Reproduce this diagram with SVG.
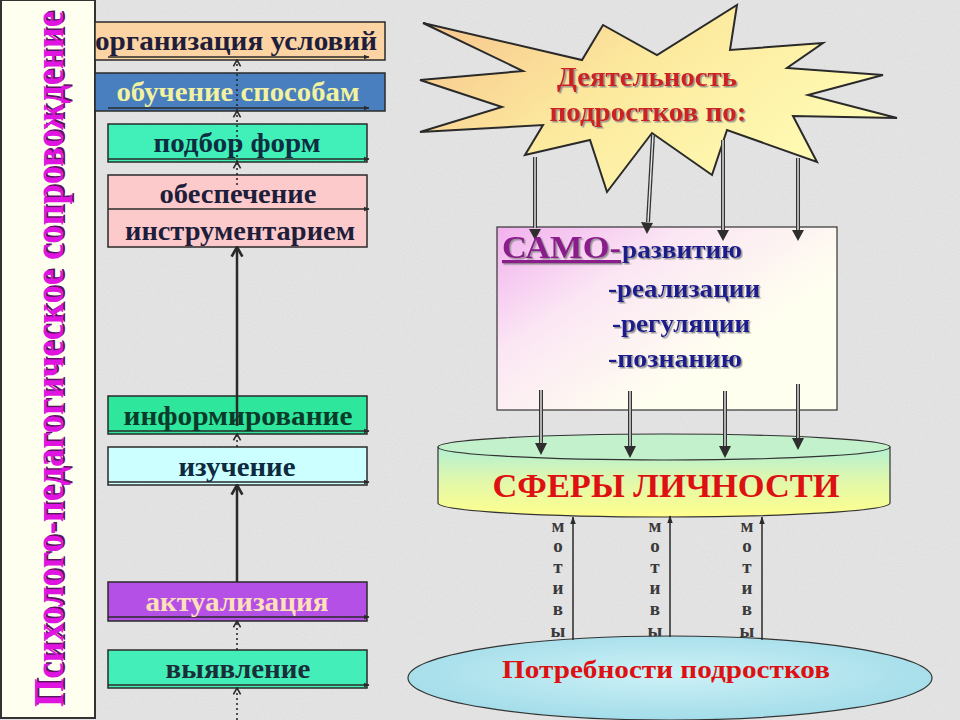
<svg xmlns="http://www.w3.org/2000/svg" width="960" height="720" viewBox="0 0 960 720">
<defs>
<style>
.bx{stroke:#2a2a2a;stroke-width:1.5}
.bt{font-family:"Liberation Serif",serif;font-weight:bold;font-size:27px;text-anchor:middle}
.hl{stroke:#2a2a2a;stroke-width:1.5;fill:none;marker-end:url(#tri)}
.dot{stroke:#2a2a2a;stroke-width:1.6;stroke-dasharray:2 3;fill:none;marker-end:url(#chev)}
.sol{stroke:#2a2a2a;stroke-width:2.5;fill:none;marker-end:url(#chevb)}
.dbl{stroke:#333;stroke-width:4;fill:none}
.dbli{stroke:#e8e8e8;stroke-width:1.4;fill:none}
.up{stroke:#2a2a2a;stroke-width:1.5;fill:none;marker-end:url(#tri2)}
.mot{font-family:"Liberation Serif",serif;font-weight:bold;font-size:19px;fill:#3a3a3a;text-anchor:middle}
.sm{font-family:"Liberation Serif",serif;font-weight:bold;font-size:25px;fill:#1a1a8c}
.tt{font-family:"Liberation Serif",serif;font-weight:bold;font-size:42px}
</style>
<marker id="tri" viewBox="0 0 10 10" refX="9" refY="5" markerWidth="6" markerHeight="6" markerUnits="userSpaceOnUse" orient="auto"><path d="M0,1 L10,5 L0,9 Z" fill="#2a2a2a"/></marker>
<marker id="tri2" viewBox="0 0 10 10" refX="9" refY="5" markerWidth="8" markerHeight="8" markerUnits="userSpaceOnUse" orient="auto"><path d="M0,1.5 L10,5 L0,8.5 Z" fill="#2a2a2a"/></marker>
<marker id="chev" viewBox="0 0 10 10" refX="9" refY="5" markerWidth="8" markerHeight="10" markerUnits="userSpaceOnUse" orient="auto"><path d="M1,0.5 L9,5 L1,9.5" fill="none" stroke="#2a2a2a" stroke-width="2"/></marker>
<marker id="chevb" viewBox="0 0 10 10" refX="9" refY="5" markerWidth="12" markerHeight="14" markerUnits="userSpaceOnUse" orient="auto"><path d="M1,0.5 L9,5 L1,9.5" fill="none" stroke="#2a2a2a" stroke-width="2.2"/></marker>
<linearGradient id="gStar" x1="0" y1="0" x2="1" y2="0.5"><stop offset="0" stop-color="#f7c28c"/><stop offset="0.5" stop-color="#fcea9e"/><stop offset="1" stop-color="#fffbb4"/></linearGradient>
<linearGradient id="gSamo" x1="0" y1="0" x2="0.75" y2="0.6"><stop offset="0" stop-color="#f2b0ee"/><stop offset="0.45" stop-color="#fbe6f4"/><stop offset="1" stop-color="#fffff0"/></linearGradient>
<linearGradient id="gCyl" x1="0" y1="0" x2="0" y2="1"><stop offset="0" stop-color="#b2efd4"/><stop offset="0.5" stop-color="#e2f8aa"/><stop offset="1" stop-color="#ffff8c"/></linearGradient>
<radialGradient id="gPot" cx="0.5" cy="0.45" r="0.6"><stop offset="0" stop-color="#cdf1f7"/><stop offset="1" stop-color="#9fdbe8"/></radialGradient>
<filter id="grain" x="0" y="0" width="1" height="1"><feTurbulence type="fractalNoise" baseFrequency="0.9" numOctaves="2" seed="3"/><feColorMatrix type="matrix" values="0 0 0 0 0.55  0 0 0 0 0.55  0 0 0 0 0.55  0 0 0 0.9 -0.35"/></filter>
<filter id="sh" x="-5%" y="-20%" width="115%" height="150%"><feDropShadow dx="1.5" dy="1.5" stdDeviation="0.6" flood-color="#8a8a8a" flood-opacity="0.9"/></filter>
</defs>

<rect x="0" y="0" width="960" height="720" fill="#e4e4e4"/>
<rect x="0" y="0" width="960" height="720" filter="url(#grain)" opacity="0.5"/>

<g id="title-panel">
<rect x="1" y="0" width="94" height="718" fill="#fffff0" stroke="#333" stroke-width="2"/>
<text class="tt" transform="translate(63,707) rotate(-90)" fill="#5a1560" textLength="696" lengthAdjust="spacingAndGlyphs" x="1.5" y="1.5">Психолого-педагогическое сопровождение</text>
<text class="tt" transform="translate(63,707) rotate(-90)" fill="#e014e0" textLength="696" lengthAdjust="spacingAndGlyphs" x="0" y="0">Психолого-педагогическое сопровождение</text>
</g>

<g id="box-org"><rect class="bx" x="95" y="22" width="290" height="38" fill="#fcd3a3"/></g>
<g id="box-obuch"><rect class="bx" x="95" y="73" width="290" height="38" fill="#4a7fbf"/></g>
<g id="box-podbor"><rect class="bx" x="108" y="124" width="259" height="38" fill="#40f0b8"/></g>
<g id="box-obesp"><rect class="bx" x="108" y="175" width="259" height="72" fill="#fccaca"/></g>
<g id="box-inform"><rect class="bx" x="108" y="396" width="259" height="38" fill="#2ee69c"/></g>
<g id="box-izuch"><rect class="bx" x="108" y="447" width="259" height="38" fill="#ccffff"/></g>
<g id="box-aktual"><rect class="bx" x="108" y="582" width="259" height="39" fill="#b450e6"/></g>
<g id="box-vyyavl"><rect class="bx" x="108" y="650" width="259" height="38" fill="#44eeb8"/></g>

<g id="star">
<polygon points="423,23 582,60 603,25 657,55 737,5 730,50 823,43 787,68 883,75 808,95 897,118 793,116 817,162 727,130 712,175 652,133 607,192 590,140 525,155 543,125 420,132 502,107 420,80 523,71" fill="url(#gStar)" stroke="#2a2a2a" stroke-width="2" stroke-linejoin="miter"/>
</g>

<g id="samo">
<rect x="497" y="227" width="340" height="183" fill="url(#gSamo)" stroke="#333" stroke-width="1.2"/>
</g>

<g id="sfery">
<path d="M438,447 L438,503 A226,14 0 0 0 890,503 L890,447" fill="url(#gCyl)" stroke="#333" stroke-width="1.2"/>
<ellipse cx="664" cy="447" rx="226" ry="13" fill="#c2f1cc" stroke="#333" stroke-width="1.2"/>
</g>

<g id="motivy" class="mot">
<text x="558" y="532">м</text><text x="558" y="552">о</text><text x="558" y="573">т</text><text x="558" y="594">и</text><text x="558" y="615">в</text><text x="558" y="637">ы</text>
<text x="655" y="532">м</text><text x="655" y="552">о</text><text x="655" y="573">т</text><text x="655" y="594">и</text><text x="655" y="615">в</text><text x="655" y="637">ы</text>
<text x="747" y="532">м</text><text x="747" y="552">о</text><text x="747" y="573">т</text><text x="747" y="594">и</text><text x="747" y="615">в</text><text x="747" y="637">ы</text>
</g>

<g id="potreb">
<ellipse cx="670" cy="678" rx="262" ry="42" fill="url(#gPot)" stroke="#333" stroke-width="1.2"/>
</g>

<g id="connectors">
<line class="hl" x1="108" y1="57" x2="369" y2="57"/>
<line class="hl" x1="108" y1="108" x2="369" y2="108"/>
<line class="hl" x1="108" y1="159" x2="369" y2="159"/>
<line class="hl" x1="108" y1="209" x2="369" y2="209"/>
<line class="hl" x1="108" y1="431" x2="369" y2="431"/>
<line class="hl" x1="108" y1="482" x2="369" y2="482"/>
<line class="hl" x1="108" y1="617" x2="369" y2="617"/>
<line class="hl" x1="108" y1="685" x2="369" y2="685"/>

<line class="dot" x1="237" y1="185" x2="237" y2="162"/>
<line class="dot" x1="237" y1="162" x2="237" y2="111"/>
<line class="dot" x1="237" y1="111" x2="237" y2="60"/>
<line class="sol" x1="237" y1="426" x2="237" y2="247"/>
<line class="dot" x1="237" y1="447" x2="237" y2="434"/>
<line class="sol" x1="237" y1="582" x2="237" y2="485"/>
<line class="dot" x1="237" y1="650" x2="237" y2="621"/>
<line class="dot" x1="237" y1="720" x2="237" y2="688"/>

<g>
<line class="dbl" x1="535" y1="157" x2="535" y2="228"/><line class="dbli" x1="535" y1="157" x2="535" y2="228"/>
<line class="dbl" x1="653" y1="135" x2="648" y2="222"/><line class="dbli" x1="653" y1="135" x2="648" y2="222"/>
<line class="dbl" x1="723" y1="140" x2="723" y2="230"/><line class="dbli" x1="723" y1="140" x2="723" y2="230"/>
<line class="dbl" x1="798" y1="158" x2="798" y2="230"/><line class="dbli" x1="798" y1="158" x2="798" y2="230"/>
<path d="M529,229 L541,229 L535,240 Z M641,222 L653,223 L647,234 Z M717,230 L729,230 L723,241 Z M792,230 L804,230 L798,241 Z" fill="#2e2e2e"/>
</g>
<g>
<line class="dbl" x1="541" y1="390" x2="541" y2="443"/><line class="dbli" x1="541" y1="390" x2="541" y2="443"/>
<line class="dbl" x1="630" y1="391" x2="630" y2="446"/><line class="dbli" x1="630" y1="391" x2="630" y2="446"/>
<line class="dbl" x1="725" y1="391" x2="725" y2="446"/><line class="dbli" x1="725" y1="391" x2="725" y2="446"/>
<line class="dbl" x1="798" y1="384" x2="798" y2="438"/><line class="dbli" x1="798" y1="384" x2="798" y2="438"/>
<path d="M535,443 L547,443 L541,455 Z M624,446 L636,446 L630,458 Z M719,446 L731,446 L725,458 Z M792,438 L804,438 L798,450 Z" fill="#2e2e2e"/>
</g>

<line class="up" x1="573" y1="640" x2="573" y2="517"/>
<line class="up" x1="670" y1="637" x2="670" y2="516"/>
<line class="up" x1="762" y1="640" x2="762" y2="517"/>
</g>

<g id="labels">
<text class="bt" x="236" y="50" fill="#1e1e3c" textLength="282" lengthAdjust="spacingAndGlyphs">организация условий</text>
<text class="bt" x="238" y="101" fill="#f2f2a0" textLength="243" lengthAdjust="spacingAndGlyphs">обучение способам</text>
<text class="bt" x="237" y="152" fill="#0d2e40" textLength="167" lengthAdjust="spacingAndGlyphs">подбор форм</text>
<text class="bt" x="238" y="203" fill="#1e1e3c" textLength="157" lengthAdjust="spacingAndGlyphs">обеспечение</text>
<text class="bt" x="240" y="240" fill="#1e1e3c" textLength="230" lengthAdjust="spacingAndGlyphs">инструментарием</text>
<text class="bt" x="238" y="425" fill="#0a3a2a" textLength="229" lengthAdjust="spacingAndGlyphs">информирование</text>
<text class="bt" x="237" y="476" fill="#0d2a40" textLength="117" lengthAdjust="spacingAndGlyphs">изучение</text>
<text class="bt" x="237" y="611" fill="#ffe0b8" textLength="183" lengthAdjust="spacingAndGlyphs">актуализация</text>
<text class="bt" x="238" y="678" fill="#1a2e3a" textLength="145" lengthAdjust="spacingAndGlyphs">выявление</text>

<g filter="url(#sh)" font-family="'Liberation Serif',serif" font-weight="bold" text-anchor="middle" fill="#cc2222">
<text x="647" y="86" font-size="27" textLength="180" lengthAdjust="spacingAndGlyphs">Деятельность</text>
<text x="648" y="121" font-size="27" textLength="197" lengthAdjust="spacingAndGlyphs">подростков по:</text>
</g>

<g filter="url(#sh)">
<text x="502" y="258" font-family="'Liberation Serif',serif" font-weight="bold" font-size="32" fill="#8b1a8b" text-decoration="underline" textLength="119" lengthAdjust="spacingAndGlyphs">САМО-</text>
<text class="sm" x="622" y="258" textLength="120" lengthAdjust="spacingAndGlyphs">развитию</text>
<text class="sm" x="608" y="297" textLength="152" lengthAdjust="spacingAndGlyphs">-реализации</text>
<text class="sm" x="612" y="332" textLength="138" lengthAdjust="spacingAndGlyphs">-регуляции</text>
<text class="sm" x="608" y="367" textLength="134" lengthAdjust="spacingAndGlyphs">-познанию</text>
</g>

<text x="666" y="497" font-family="'Liberation Serif',serif" font-weight="bold" font-size="34" fill="#dd1111" text-anchor="middle" textLength="347" lengthAdjust="spacingAndGlyphs">СФЕРЫ ЛИЧНОСТИ</text>

<text x="666" y="678" font-family="'Liberation Serif',serif" font-weight="bold" font-size="26" fill="#dd1111" text-anchor="middle" textLength="328" lengthAdjust="spacingAndGlyphs">Потребности подростков</text>
</g>
</svg>
